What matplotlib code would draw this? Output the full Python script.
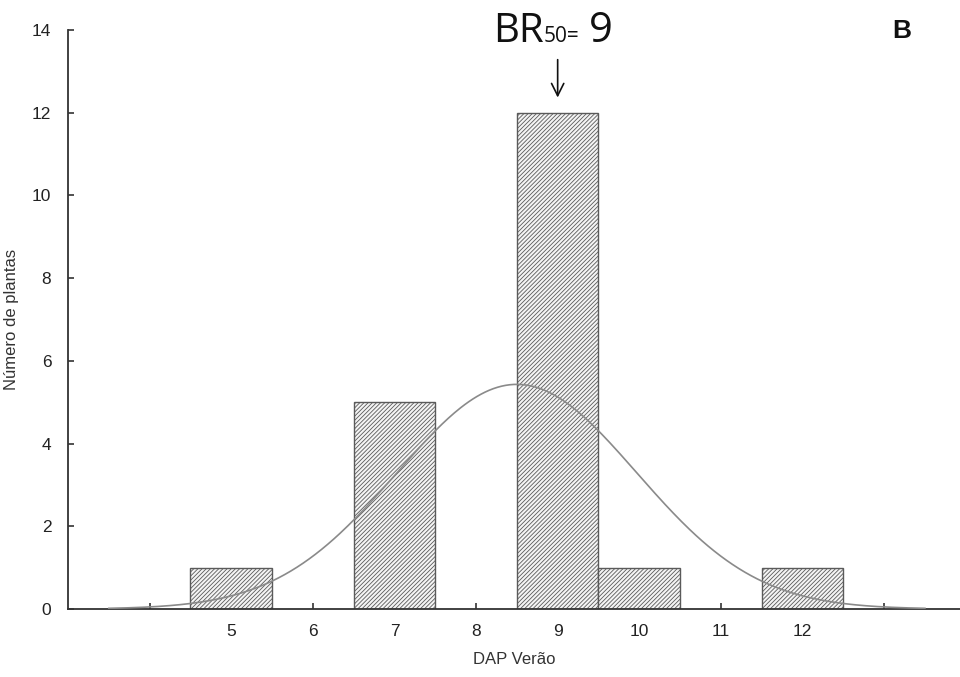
import numpy as np
import matplotlib
matplotlib.use("Agg")
import matplotlib.pyplot as plt

plt.rcParams['font.family'] = ['Liberation Sans', 'DejaVu Sans']
plt.rcParams['hatch.color'] = '#7a7a7a'
plt.rcParams['hatch.linewidth'] = 0.6

# Data
dap = [5, 7, 9, 10, 12]
plantas = [1, 5, 12, 1, 1]
xtick_vals = list(range(4, 14))
xtick_labels = ['', '5', '6', '7', '8', '9', '10', '11', '12', '']
ytick_vals = list(range(0, 15, 2))

# Normal fit from the data
vals = np.repeat(dap, plantas)
mu = vals.mean()
sd = vals.std(ddof=1)
n = len(vals)
xc = np.linspace(3.5, 13.5, 400)
yc = n * 1.0 * np.exp(-0.5 * ((xc - mu) / sd) ** 2) / (sd * np.sqrt(2 * np.pi))

fig = plt.figure(figsize=(9.6, 6.77), dpi=100)
ax = fig.add_axes([68/960, 1 - 609/677, 1 - 68/960, (609 - 30)/677])

ax.bar(dap, plantas, width=1.0, facecolor='#f4f4f4', edgecolor='#5a5a5a',
       hatch='////////', linewidth=1.0, zorder=2)
ax.plot(xc, yc, color='#8a8a8a', lw=1.2, zorder=3)

ax.set_xlim(3, 13.93)
ax.set_ylim(0, 14)
ax.set_xticks(xtick_vals)
ax.set_xticklabels(xtick_labels)
ax.set_yticks(ytick_vals)
for s in ['top', 'right']:
    ax.spines[s].set_visible(False)
for s in ['left', 'bottom']:
    ax.spines[s].set_color('#333333')
    ax.spines[s].set_linewidth(1.3)
ax.tick_params(axis='both', direction='in', length=4, width=1.2, color='#333333',
               labelsize=12.5, labelcolor='#222222')
ax.tick_params(axis='x', pad=11)
ax.tick_params(axis='y', pad=12)

ax.set_xlabel('DAP Verão', fontsize=12, color='#333333', labelpad=9)
ax.set_ylabel('Número de plantas', fontsize=12, color='#333333', labelpad=9)

# Annotation BR50 = 9
fig.text(493/960, 1 - 42/677, 'BR', fontsize=29, family=['Open Sans', 'DejaVu Sans'],
         ha='left', va='baseline', color='#111111')
fig.text(544/960, 1 - 42/677, '50=', fontsize=15, family=['Open Sans', 'DejaVu Sans'],
         ha='left', va='baseline', color='#111111')
fig.text(589/960, 1 - 42/677, '9', fontsize=30, family=['Open Sans', 'DejaVu Sans'],
         ha='left', va='baseline', color='#111111')
ax.annotate('', xy=(9, 12.3), xytext=(9, 13.35),
            arrowprops=dict(arrowstyle='->', color='#111111', lw=1.2,
                            mutation_scale=22))
fig.text(902/960, 1 - 31/677, 'B', fontsize=19, fontweight='bold',
         ha='center', va='center', color='#111111')

fig.savefig('out.png', dpi=100)
